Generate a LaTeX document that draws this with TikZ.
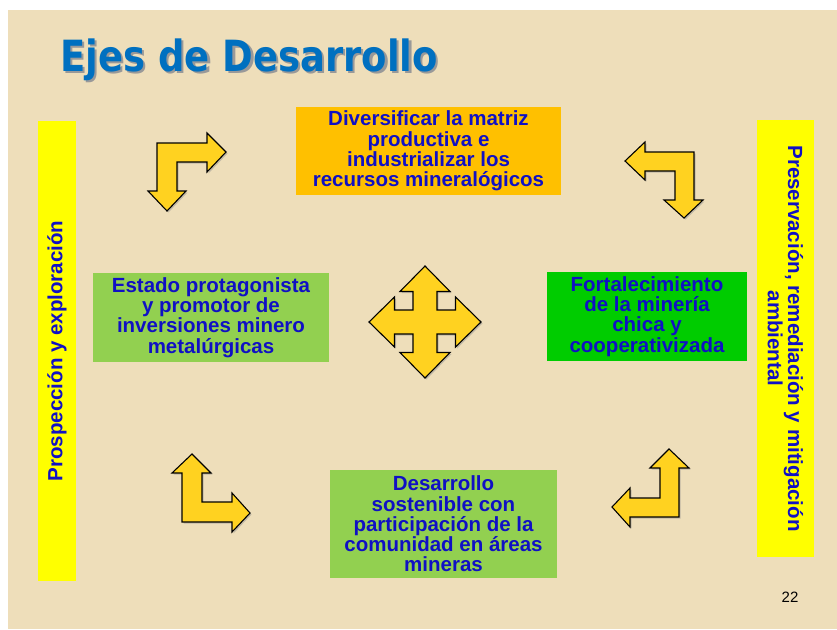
\documentclass[tikz,border=0pt]{standalone}
\usepackage{fontspec}
\setmainfont{Liberation Sans}
\newfontfamily\titlefont{DejaVu Sans}
\definecolor{bgbeige}{RGB}{238,222,186}
\definecolor{txtblue}{RGB}{16,16,196}
\definecolor{titleblue}{RGB}{0,112,192}
\definecolor{orangebox}{RGB}{255,192,0}
\definecolor{lightgreen}{RGB}{146,208,80}
\definecolor{brightgreen}{RGB}{0,204,0}
\definecolor{baryellow}{RGB}{255,255,0}
\definecolor{arrowyellow}{RGB}{255,210,32}
\newcommand{\titletext}{\scalebox{0.86}[1]{\titlefont\bfseries\fontsize{43}{43}\selectfont Ejes de Desarrollo}}
\tikzset{
  boxnode/.style={draw=none, inner sep=2pt, align=center, text=txtblue,
    font=\bfseries\fontsize{20.5}{20.2}\selectfont},
  barnode/.style={boxnode, fill=baryellow},
  blockarrow/.style={fill=arrowyellow, draw=black, line width=1.1pt, line join=miter},
  arrowshadow/.style={fill=black!45, opacity=0.45},
}
\begin{document}
\begin{tikzpicture}[x=1pt,y=-1pt]
\useasboundingbox (0,0) rectangle (837,629);
\fill[white] (0,0) rectangle (837,629);
\fill[bgbeige] (8,10) rectangle (837,629);

% title with its shadow in one node
\node[anchor=base west, inner sep=0] (title) at (60,71)
  {\rlap{\raisebox{-2.5pt}[0pt][0pt]{\hspace*{2.5pt}\textcolor{black!40}{\titletext}}}\textcolor{titleblue}{\titletext}};

% side bars
\node[barnode, rotate=90, minimum width=460, minimum height=38] (lbar) at (57,351)
  {Prospección y exploración};
\node[barnode, rotate=-90, minimum width=437, minimum height=57] (rbar) at (785.5,338.5)
  {Preservación, remediación y mitigación\\ambiental};

% boxes
\node[boxnode, fill=orangebox, minimum width=265, minimum height=88] (topbox) at (428.5,151)
  {Diversificar la matriz\\productiva e\\industrializar los\\recursos mineralógicos};
\node[boxnode, fill=lightgreen, minimum width=236, minimum height=89] (leftbox) at (211,317.5)
  {Estado protagonista\\y promotor de\\inversiones minero\\metalúrgicas};
\node[boxnode, fill=brightgreen, minimum width=200, minimum height=89] (rightbox) at (647,316.5)
  {Fortalecimiento\\de la minería\\chica y\\cooperativizada};
\node[boxnode, fill=lightgreen, minimum width=227, minimum height=108] (bottombox) at (443.5,524)
  {Desarrollo\\sostenible con\\participación de la\\comunidad en áreas\\mineras};

% page number
\node[inner sep=0] (pagenum) at (790,597.5) {\fontsize{15}{15}\selectfont 22};

% block arrows (shadow + arrow)
\foreach \dx/\st in {1.5/arrowshadow, 0/blockarrow}{
  % top-left: right and down
  \path[\st, shift={(\dx,\dx)}] (157,143) -- (207,143) -- (207,133) -- (226,152) -- (207,172)
    -- (207,162) -- (177,162) -- (177,191) -- (186,191) -- (167,211) -- (148,191) -- (157,191) -- cycle;
  % top-right: left and down
  \path[\st, shift={(\dx,\dx)}] (625,161) -- (645,142) -- (645,152) -- (694,152) -- (694,200)
    -- (703,200) -- (684,218) -- (664,200) -- (675,200) -- (675,171) -- (645,171) -- (645,180) -- cycle;
  % bottom-left: up and right
  \path[\st, shift={(\dx,\dx)}] (192,454) -- (211,473) -- (202,473) -- (202,502) -- (232,502)
    -- (232,493) -- (250,513) -- (232,532) -- (232,522) -- (182,522) -- (182,473) -- (172,473) -- cycle;
  % bottom-right: up and left
  \path[\st, shift={(\dx,\dx)}] (669,449) -- (689,468) -- (679,468) -- (679,517) -- (630,517)
    -- (630,527) -- (612,507) -- (630,488) -- (630,498) -- (660,498) -- (660,468) -- (650,468) -- cycle;
  % centre: four-way
  \path[\st, shift={(425+\dx,322+\dx)}] (0,-56) -- (25,-30.5) -- (12,-30.5) -- (12,-12) -- (30.5,-12)
    -- (30.5,-25) -- (56,0) -- (30.5,25) -- (30.5,12) -- (12,12) -- (12,30.5) -- (25,30.5)
    -- (0,56) -- (-25,30.5) -- (-12,30.5) -- (-12,12) -- (-30.5,12) -- (-30.5,25) -- (-56,0)
    -- (-30.5,-25) -- (-30.5,-12) -- (-12,-12) -- (-12,-30.5) -- (-25,-30.5) -- cycle;
}
\end{tikzpicture}
\end{document}
